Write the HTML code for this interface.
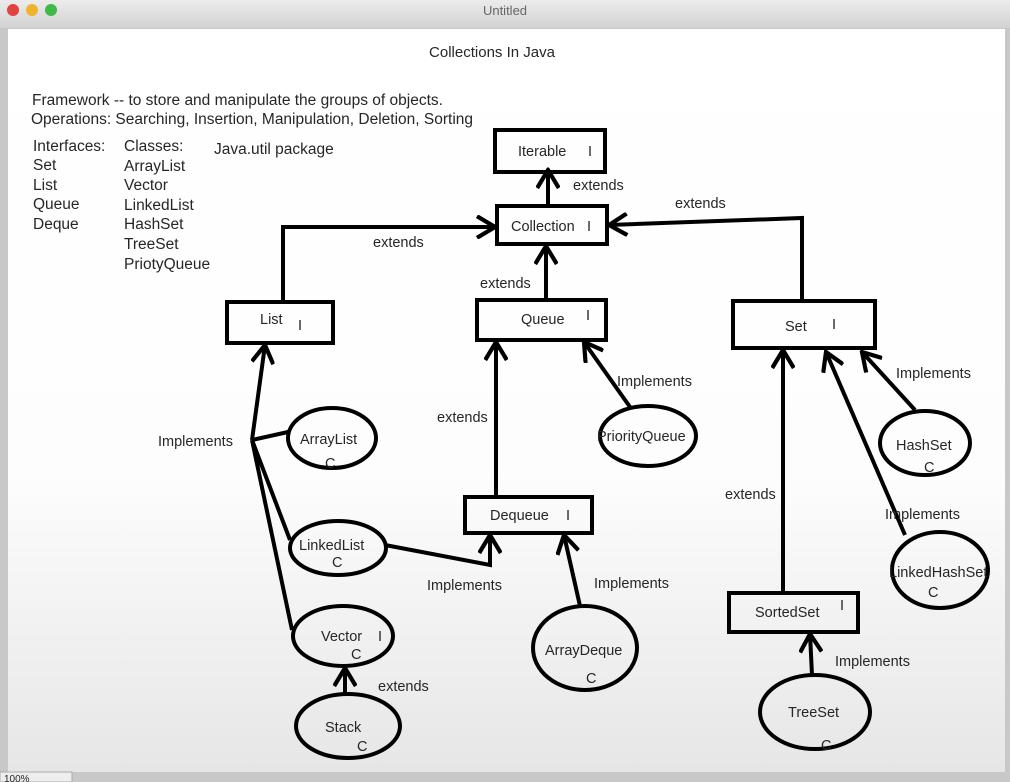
<!DOCTYPE html>
<html><head><style>
html,body{margin:0;padding:0;width:1010px;height:782px;overflow:hidden;background:#ddd}
svg{display:block}
text{font-family:"Liberation Sans",sans-serif;fill:#262626}
</style></head><body>
<svg width="1010" height="782" viewBox="0 0 1010 782">
<defs>
<linearGradient id="tb" x1="0" y1="0" x2="0" y2="1"><stop offset="0" stop-color="#ececec"/><stop offset="1" stop-color="#d2d2d2"/></linearGradient>
<linearGradient id="bg" x1="0" y1="0" x2="0" y2="1"><stop offset="0" stop-color="#ffffff"/><stop offset="0.6" stop-color="#fdfdfd"/><stop offset="1" stop-color="#e6e6e6"/></linearGradient>
<marker id="a" viewBox="0 0 20 20" refX="18" refY="10" markerWidth="24" markerHeight="24" markerUnits="userSpaceOnUse" orient="auto">
<path d="M3,1 L18,10 L3,19" fill="none" stroke="#000" stroke-width="3.5"/></marker>
</defs>
<rect x="0" y="0" width="1010" height="28" fill="url(#tb)"/>
<circle cx="13" cy="10" r="6" fill="#e0443e"/><circle cx="32" cy="10" r="6" fill="#f0b42c"/><circle cx="51" cy="10" r="6" fill="#3fb948"/>
<text x="505" y="15" font-size="13" text-anchor="middle" style="fill:#666">Untitled</text>
<rect x="0" y="28" width="1010" height="754" fill="#c8c8c8"/>
<rect x="8" y="29" width="997" height="743" fill="url(#bg)"/>
<rect x="0" y="772" width="72" height="10" fill="#eee" stroke="#aaa"/>
<text x="4" y="782" font-size="10">100%</text>

<text x="492" y="57" font-size="15" text-anchor="middle">Collections In Java</text>
<g font-size="15.5">
<text x="32" y="105">Framework -- to store and manipulate the groups of objects.</text>
<text x="31" y="124">Operations: Searching, Insertion, Manipulation, Deletion, Sorting</text>
<text x="33" y="151">Interfaces:</text><text x="33" y="170">Set</text><text x="33" y="190">List</text><text x="33" y="209">Queue</text><text x="33" y="229">Deque</text>
<text x="124" y="151">Classes:</text><text x="124" y="171">ArrayList</text><text x="124" y="190">Vector</text><text x="124" y="210">LinkedList</text><text x="124" y="229">HashSet</text><text x="124" y="249">TreeSet</text><text x="124" y="269">PriotyQueue</text>
<text x="214" y="154">Java.util package</text>
</g>

<g fill="none" stroke="#000" stroke-width="4">
<rect x="495" y="130" width="110" height="42"/>
<rect x="497" y="206" width="110" height="38"/>
<rect x="227" y="302" width="106" height="41"/>
<rect x="477" y="300" width="129" height="40"/>
<rect x="733" y="301" width="142" height="47"/>
<rect x="465" y="497" width="127" height="36"/>
<rect x="729" y="593" width="129" height="39"/>
<ellipse cx="332" cy="438" rx="44" ry="30"/>
<ellipse cx="648" cy="436" rx="48" ry="30"/>
<ellipse cx="925" cy="443" rx="45" ry="32"/>
<ellipse cx="338" cy="548" rx="48" ry="27"/>
<ellipse cx="940" cy="570" rx="48" ry="38"/>
<ellipse cx="343" cy="636" rx="50" ry="30"/>
<ellipse cx="348" cy="726" rx="52" ry="32"/>
<ellipse cx="585" cy="648" rx="52" ry="42"/>
<ellipse cx="815" cy="712" rx="55" ry="37"/>

<g marker-end="url(#a)">
<path d="M548,206 L548,170"/>
<path d="M283,302 L283,227 L495,227"/>
<path d="M546,300 L546,246"/>
<path d="M802,301 L802,218 L609,225"/>
<path d="M252,440 L265,345"/>
<path d="M496,497 L496,342"/>
<path d="M630,407 L584,342"/>
<path d="M385,545 L490,565 L490,535"/>
<path d="M580,606 L564,535"/>
<path d="M783,593 L783,350"/>
<path d="M905,535 L826,352"/>
<path d="M915,410 L862,352"/>
<path d="M812,675 L810,634"/>
<path d="M345,694 L345,668"/>
</g>
<path d="M252,440 L288,432 M252,440 L290,540 M252,440 L292,630"/>
</g>

<g font-size="14.5">
<text x="518" y="156">Iterable</text><text x="588" y="156">I</text>
<text x="511" y="231">Collection</text><text x="587" y="231">I</text>
<text x="260" y="324">List</text><text x="298" y="330">I</text>
<text x="521" y="324">Queue</text><text x="586" y="320">I</text>
<text x="785" y="331">Set</text><text x="832" y="329">I</text>
<text x="490" y="520">Dequeue</text><text x="566" y="520">I</text>
<text x="755" y="617">SortedSet</text><text x="840" y="610">I</text>
<text x="300" y="444">ArrayList</text><text x="325" y="468">C</text>
<text x="597" y="441">PriorityQueue</text>
<text x="896" y="450">HashSet</text><text x="924" y="472">C</text>
<text x="299" y="550">LinkedList</text><text x="332" y="567">C</text>
<text x="889" y="577">LinkedHashSet</text><text x="928" y="597">C</text>
<text x="321" y="641">Vector</text><text x="351" y="659">C</text><text x="378" y="641">I</text>
<text x="325" y="732">Stack</text><text x="357" y="751">C</text>
<text x="545" y="655">ArrayDeque</text><text x="586" y="683">C</text>
<text x="788" y="717">TreeSet</text><text x="821" y="750">C</text>
</g>
<g font-size="14.5">
<text x="573" y="190">extends</text>
<text x="675" y="208">extends</text>
<text x="373" y="247">extends</text>
<text x="480" y="288">extends</text>
<text x="437" y="422">extends</text>
<text x="725" y="499">extends</text>
<text x="378" y="691">extends</text>
<text x="158" y="446">Implements</text>
<text x="617" y="386">Implements</text>
<text x="896" y="378">Implements</text>
<text x="885" y="519">Implements</text>
<text x="427" y="590">Implements</text>
<text x="594" y="588">Implements</text>
<text x="835" y="666">Implements</text>
</g>
</svg>
</body></html>
